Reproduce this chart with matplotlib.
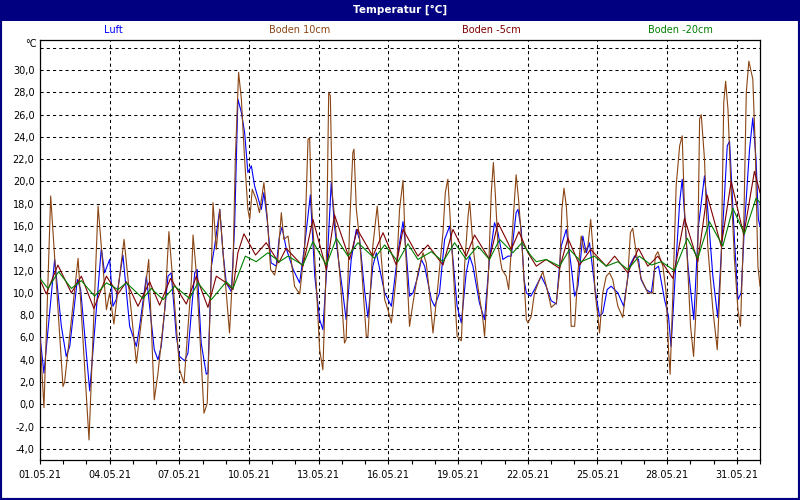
import matplotlib
matplotlib.use("Agg")
import matplotlib.pyplot as plt
from matplotlib.patches import Rectangle

# ============ data (days since 01.05.21 00:00, temperature in degC)

luft_t = [0.0, 0.17, 0.63, 0.92, 1.13, 1.28, 1.61, 1.75, 2.14, 2.64, 2.78, 3.0, 3.14, 3.28, 3.57, 3.86,
          4.15, 4.29, 4.58, 4.92, 5.08, 5.22, 5.51, 5.65, 5.87, 6.01, 6.23, 6.37, 6.66, 6.77, 6.94, 7.16,
          7.23, 7.38, 7.52, 7.74, 7.88, 8.02, 8.24, 8.38, 8.52, 8.67, 8.81, 8.95, 9.1, 9.24, 9.53, 9.64,
          9.78, 9.95, 10.17, 10.31, 10.42, 10.6, 10.9, 11.18, 11.39, 11.64, 11.83, 12.04, 12.18, 12.37,
          12.54, 12.68, 12.83, 13.04, 13.18, 13.4, 13.62, 13.76, 13.97, 14.12, 14.33, 14.48, 14.84, 15.13,
          15.41, 15.58, 15.63, 15.77, 15.91, 16.06, 16.27, 16.42, 16.56, 16.85, 16.99, 17.2, 17.42, 17.64,
          17.78, 17.96, 18.14, 18.35, 18.5, 18.64, 18.92, 19.14, 19.35, 19.57, 19.72, 19.93, 20.15, 20.29,
          20.5, 20.58, 20.72, 20.84, 20.94, 21.13, 21.29, 21.58, 21.79, 22.01, 22.23, 22.44, 22.66, 22.87,
          23.02, 23.16, 23.37, 23.52, 23.66, 23.9, 24.09, 24.23, 24.42, 24.59, 24.88, 25.13, 25.38, 25.6,
          25.77, 25.88, 26.1, 26.32, 26.46, 26.63, 26.89, 27.06, 27.17, 27.39, 27.54, 27.65, 27.9, 28.15,
          28.35, 28.61, 28.75, 28.97, 29.18, 29.4, 29.59, 29.69, 29.9, 30.05, 30.19, 30.33, 30.55, 30.69,
          30.83, 30.93, 31.0]
luft = [6.1, 2.8, 13.0, 7.0, 4.3, 5.2, 11.2, 10.3, 1.2, 14.0, 11.8, 13.0, 8.8, 9.4, 13.4, 7.0,
        5.2, 7.0, 11.5, 4.9, 4.0, 5.2, 11.5, 11.8, 6.1, 4.3, 3.9, 4.6, 11.8, 12.1, 5.5, 2.7,
        2.8, 12.4, 14.2, 17.5, 13.6, 10.9, 10.1, 16.0, 27.4, 26.2, 24.4, 20.8, 21.4, 19.6, 17.5, 19.0,
        16.6, 12.7, 12.4, 15.1, 15.9, 14.0, 12.1, 10.9, 14.2, 18.8, 11.5, 7.6, 6.7, 13.0,
        19.9, 16.0, 13.3, 10.0, 7.6, 13.0, 15.7, 14.8, 10.3, 7.8, 12.4, 13.6, 10.0, 8.8,
        13.6, 15.8, 16.4, 13.6, 9.7, 10.0, 11.5, 13.0, 12.4, 9.4, 8.8, 10.0, 14.8, 16.0,
        13.0, 8.8, 7.3, 11.8, 13.3, 12.4, 9.1, 7.6, 13.0, 16.3, 15.4, 13.0, 13.3, 13.3,
        17.2, 17.5, 15.7, 11.2, 10.0, 9.7, 10.3, 11.5, 10.6, 9.3, 9.0, 14.2, 15.7, 12.4,
        9.7, 10.6, 15.1, 13.6, 14.5, 10.3, 7.9, 8.2, 10.3, 10.6, 10.0, 8.8, 12.4, 13.3,
        13.0, 11.2, 10.3, 10.0, 12.1, 12.4, 9.4, 7.9, 5.2, 13.0, 18.1, 20.2, 12.4, 7.6,
        16.0, 20.5, 17.5, 11.5, 7.8, 16.0, 23.2, 23.6, 14.8, 9.4, 10.0, 16.0, 22.9, 25.7,
        22.0, 16.6, 16.0]

b10_t = [0.0, 0.17, 0.46, 0.99, 1.06, 1.64, 2.11, 2.5, 2.86, 3.0, 3.18, 3.62, 4.15, 4.68, 4.92, 5.08,
         5.37, 5.55, 5.87, 6.01, 6.2, 6.52, 6.59, 6.73, 6.94, 7.06, 7.2, 7.38, 7.45, 7.59, 7.74, 7.88,
         8.09, 8.16, 8.31, 8.41, 8.55, 8.67, 8.81, 8.95, 9.03, 9.14, 9.31, 9.45, 9.64, 9.78, 9.93, 10.1,
         10.24, 10.39, 10.5, 10.68, 10.96, 11.18, 11.39, 11.54, 11.61, 11.68, 11.9, 12.04, 12.18, 12.33,
         12.43, 12.5, 12.58, 12.83, 12.97, 13.11, 13.18, 13.33, 13.47, 13.52, 13.62, 13.76, 13.9, 14.05,
         14.12, 14.33, 14.52, 14.62, 14.84, 14.98, 15.13, 15.34, 15.48, 15.63, 15.73, 15.84, 15.91, 16.06,
         16.27, 16.49, 16.63, 16.77, 16.92, 17.13, 17.35, 17.45, 17.56, 17.68, 17.85, 17.96, 18.14, 18.28,
         18.43, 18.5, 18.64, 18.85, 19.07, 19.14, 19.31, 19.43, 19.52, 19.6, 19.72, 19.89, 20.07, 20.18,
         20.29, 20.43, 20.5, 20.6, 20.69, 20.79, 20.94, 21.01, 21.15, 21.29, 21.51, 21.65, 21.87, 22.01,
         22.23, 22.37, 22.47, 22.56, 22.66, 22.76, 22.87, 23.02, 23.16, 23.3, 23.45, 23.59, 23.71, 23.8,
         23.9, 24.02, 24.09, 24.23, 24.38, 24.52, 24.66, 24.88, 25.09, 25.31, 25.42, 25.52, 25.67, 25.88,
         26.17, 26.39, 26.49, 26.6, 26.82, 26.96, 27.06, 27.13, 27.25, 27.39, 27.54, 27.65, 27.75, 27.87,
         28.01, 28.14, 28.3, 28.4, 28.47, 28.61, 28.75, 28.97, 29.16, 29.33, 29.44, 29.52, 29.62, 29.73,
         29.9, 30.05, 30.16, 30.3, 30.41, 30.52, 30.69, 30.79, 30.91, 31.0]
boden10 = [6.0, -0.3, 18.7, 1.6, 2.0, 13.1, -3.2, 17.8, 8.5, 10.0, 7.2, 14.8, 3.7, 13.0, 0.4, 2.8,
           8.5, 15.5, 7.0, 3.1, 1.9, 11.2, 15.2, 11.8, 4.0, -0.8, 0.1, 12.4, 18.1, 13.9, 17.5, 13.6,
           8.2, 6.4, 12.4, 22.0, 29.8, 27.4, 22.0, 17.5, 16.6, 19.3, 18.4, 17.2, 19.9, 16.9, 12.1, 11.6,
           13.0, 17.2, 14.8, 15.1, 10.6, 9.9, 13.9, 23.8, 23.9, 18.4, 10.6, 4.9, 3.1, 13.0,
           28.0, 27.7, 19.0, 13.6, 10.0, 5.5, 5.8, 16.0, 22.6, 22.9, 17.5, 14.8, 10.6, 6.1,
           6.1, 14.2, 17.8, 15.1, 9.4, 8.5, 7.3, 11.5, 17.5, 20.1, 14.2, 10.0, 7.0, 9.1,
           11.8, 13.6, 12.7, 10.0, 6.4, 10.6, 15.4, 19.0, 20.2, 16.0, 10.0, 6.1, 5.7, 12.4,
           16.9, 18.2, 14.2, 10.6, 7.6, 6.1, 11.8, 19.0, 21.7, 19.0, 14.2, 12.1, 11.5, 10.3,
           13.9, 18.4, 20.6, 18.5, 16.0, 13.0, 7.6, 7.3, 7.9, 10.0, 11.2, 11.9, 10.0, 8.7,
           9.1, 11.8, 17.5, 19.4, 17.8, 14.2, 7.0, 7.0, 11.8, 15.1, 13.6, 14.2, 16.6, 14.2,
           10.0, 7.9, 6.4, 10.0, 11.5, 11.8, 11.2, 8.8, 7.8, 11.5, 15.4, 15.8, 13.6, 11.3,
           10.0, 10.0, 13.3, 13.7, 12.4, 10.0, 4.9, 2.7, 10.0, 19.6, 23.2, 24.1, 17.5, 13.0,
           7.0, 4.3, 10.6, 25.6, 26.0, 22.0, 14.2, 8.5, 4.9, 13.0, 27.1, 29.0, 26.5, 20.5,
           13.0, 8.5, 7.0, 16.0, 28.0, 30.8, 29.2, 23.5, 12.4, 10.6]

b5_t = [0.0, 0.27, 0.77, 1.35, 1.78, 2.32, 2.86, 3.36, 3.72, 4.22, 4.72, 5.15, 5.62, 6.3, 6.73, 7.23,
        7.59, 7.95, 8.31, 8.52, 8.78, 9.28, 9.74, 10.28, 10.6, 11.32, 11.75, 12.33, 12.68, 13.33, 13.66,
        14.33, 14.77, 15.34, 15.63, 16.27, 16.7, 17.35, 17.78, 18.35, 18.71, 19.35, 19.72, 20.29, 20.62,
        21.01, 21.37, 21.79, 22.37, 22.73, 23.23, 23.71, 24.38, 24.74, 25.31, 25.77, 26.17, 26.6, 27.25,
        27.75, 28.32, 28.72, 29.33, 29.76, 30.3, 30.76, 31.0]
boden5 = [11.2, 9.9, 12.5, 10.0, 11.5, 8.6, 11.5, 9.9, 11.0, 8.8, 11.0, 8.9, 11.3, 9.0, 11.5, 8.7,
          11.5, 11.0, 10.3, 13.6, 15.3, 13.4, 14.5, 12.7, 14.0, 12.4, 16.6, 12.1, 17.0, 13.0, 15.7,
          13.3, 15.4, 12.5, 15.7, 13.3, 14.3, 12.5, 15.7, 13.3, 15.2, 13.0, 16.3, 13.9, 15.5,
          13.6, 12.4, 13.0, 12.2, 14.9, 12.5, 13.9, 12.4, 13.3, 11.8, 14.0, 12.4, 13.3, 11.3,
          16.7, 12.8, 18.8, 14.2, 20.0, 15.2, 20.9, 19.0]

b20_t = [0.0, 0.34, 0.8, 1.35, 1.78, 2.35, 2.86, 3.36, 3.72, 4.43, 4.79, 5.3, 5.8, 6.44, 6.8, 7.38,
         8.02, 8.31, 8.84, 9.31, 9.81, 10.31, 10.68, 11.32, 11.75, 12.33, 12.76, 13.26, 13.69, 14.4, 14.84,
         15.41, 15.84, 16.27, 16.85, 17.35, 17.85, 18.35, 18.85, 19.35, 19.79, 20.36, 20.75, 21.15, 21.37,
         21.79, 22.37, 22.8, 23.3, 23.87, 24.38, 24.88, 25.31, 25.8, 26.32, 26.75, 27.32, 27.87, 28.32,
         28.82, 29.4, 29.83, 30.33, 30.83, 31.0]
boden20 = [11.3, 10.4, 11.9, 10.4, 11.1, 9.7, 10.9, 10.3, 10.9, 9.5, 10.4, 9.4, 10.6, 9.5, 10.9, 9.4,
           11.0, 10.4, 13.3, 12.8, 13.6, 12.8, 13.3, 12.5, 14.6, 12.5, 14.9, 13.3, 14.5, 13.1, 14.3,
           12.8, 14.4, 13.0, 13.7, 12.8, 14.5, 13.0, 14.2, 13.0, 14.8, 13.6, 14.5, 13.3, 12.8,
           13.0, 12.4, 13.9, 12.8, 13.3, 12.4, 12.8, 12.1, 13.3, 12.5, 12.8, 12.0, 14.9, 13.1,
           16.4, 14.2, 17.6, 15.3, 18.5, 18.1]

names = ["Luft", "Boden 10cm", "Boden -5cm", "Boden -20cm"]
colors = ["#0000FF", "#8B4513", "#800000", "#008000"]

date_ticks = [0, 3, 6, 9, 12, 15, 18, 21, 24, 27, 30]
date_labels = ["01.05.21", "04.05.21", "07.05.21", "10.05.21", "13.05.21", "16.05.21",
               "19.05.21", "22.05.21", "25.05.21", "28.05.21", "31.05.21"]
y_ticks = list(range(-4, 33, 2))

navy = "#000080"

# ============ figure

fig = plt.figure(figsize=(8, 5), dpi=100)
fig.patch.set_facecolor("white")
ax = fig.add_axes([40/800, 40/500, 720/800, 420/500])

series = [(luft_t, luft), (b10_t, boden10), (b5_t, boden5), (b20_t, boden20)]
for (t, v), c in zip(series, colors):
	ax.plot(t, v, color=c, lw=0.8, zorder=3)

ax.set_xlim(0, 31)
ax.set_ylim(-5, 32.7)

ax.set_xticks(date_ticks)
ax.set_xticklabels(date_labels, fontsize=7)
ax.set_xticks(range(0, 32), minor=True)
ax.tick_params(axis="x", which="both", direction="out", length=3, width=0.8, pad=4)

ax.set_yticks(y_ticks)
ax.set_yticklabels([("%.1f" % v).replace(".", ",") if v < 32 else "" for v in y_ticks], fontsize=7)
ax.tick_params(axis="y", length=0, pad=4)

ax.grid(True, which="major", color="black", linestyle=(0, (3, 3)), lw=0.75)
for s in ax.spines.values():
	s.set_linewidth(0.9)
	s.set_color("black")

fig.text(31/800, 1 - 44/500, "°C", fontsize=7, ha="center", va="center")

# legend as coloured labels on top
for name, c, xp in zip(names, colors, [113, 300, 491, 680]):
	fig.text(xp/800, 1 - 30/500, name, color=c, fontsize=7, ha="center", va="center")

# title bar + frame
fig.patches.append(Rectangle((0, 1 - 21/500), 1, 21/500, transform=fig.transFigure,
                             facecolor=navy, edgecolor="none", zorder=0))
fig.text(0.5, 1 - 10/500, "Temperatur [°C]", color="white", fontsize=7.5,
         fontweight="bold", ha="center", va="center")
fig.patches.append(Rectangle((0, 0), 1, 1, transform=fig.transFigure, fill=False,
                             edgecolor=navy, linewidth=3, zorder=0))

fig.savefig("out.png", dpi=100)
